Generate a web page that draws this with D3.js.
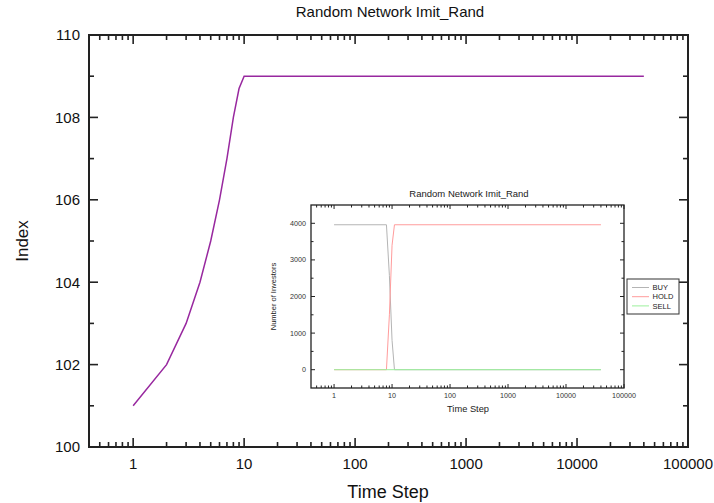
<!DOCTYPE html>
<html>
<head>
<meta charset="utf-8">
<script src="https://cdn.jsdelivr.net/npm/d3@7/dist/d3.min.js"></script>
<style>
  html, body { margin: 0; padding: 0; background: #fff; }
  svg { display: block; font-family: "Liberation Sans", Arial, sans-serif; }
</style>
</head>
<body>
<svg id="chart" width="714" height="503"></svg>
<script>
// Index over time (main panel)
const indexSteps  = [1, 2, 3, 4, 5, 6, 7, 8, 9, 10, 40000];
const indexValues = [101, 102, 103, 104, 105, 106, 107, 108, 108.7, 109, 109];

// Investor counts per state (inset panel)
const buySteps   = [1, 8, 9, 10, 11, 40000];
const buyValues  = [3960, 3960, 2570, 800, 0, 0];
const holdSteps  = [1, 8, 9, 10, 11, 40000];
const holdValues = [0, 0, 1500, 3400, 3960, 3960];
const sellSteps  = [1, 40000];
const sellValues = [0, 0];

const xTickValues     = [1, 10, 100, 1000, 10000, 100000];
const indexTickValues = [100, 102, 104, 106, 108, 110];
const countTickValues = [0, 1000, 2000, 3000, 4000];
const legendLabels    = ["BUY", "HOLD", "SELL"];
const legendColors    = ["#b4b4b4", "#ff9c9c", "#9cf09c"];

const titleText = "Random Network Imit_Rand";

const svg = d3.select("#chart");

// minor log ticks: 2..9 of each decade, plus 0.5..0.9 below 1
function minorLogTicks(lo, hi) {
  const out = [];
  for (let e = -1; e <= 4; e++) {
    for (let m = 2; m <= 9; m++) {
      const v = m * Math.pow(10, e);
      if (v > lo && v < hi) out.push(v);
    }
  }
  return out;
}

function drawPanel(g, cfg) {
  const { x, y, w, h } = cfg;
  const xs = cfg.xScale, ys = cfg.yScale;
  g.append("rect").attr("x", x).attr("y", y).attr("width", w).attr("height", h)
    .attr("fill", "#fff");

  const majX = xTickValues;
  const minX = minorLogTicks(xs.domain()[0], xs.domain()[1]);

  // bottom / top x ticks (inward)
  const tk = g.append("g").attr("stroke", "#222").attr("stroke-width", cfg.tickWidth);
  majX.forEach(v => {
    const px = xs(v);
    tk.append("line").attr("x1", px).attr("x2", px).attr("y1", y + h).attr("y2", y + h - cfg.majLen);
    tk.append("line").attr("x1", px).attr("x2", px).attr("y1", y).attr("y2", y + cfg.majLen);
  });
  minX.forEach(v => {
    const px = xs(v);
    tk.append("line").attr("x1", px).attr("x2", px).attr("y1", y + h).attr("y2", y + h - cfg.minLen);
    tk.append("line").attr("x1", px).attr("x2", px).attr("y1", y).attr("y2", y + cfg.minLen);
  });
  // left / right y ticks (inward)
  cfg.yMajor.forEach(v => {
    const py = ys(v);
    tk.append("line").attr("x1", x).attr("x2", x + cfg.majLen).attr("y1", py).attr("y2", py);
    tk.append("line").attr("x1", x + w).attr("x2", x + w - cfg.majLen).attr("y1", py).attr("y2", py);
  });
  cfg.yMinor.forEach(v => {
    const py = ys(v);
    tk.append("line").attr("x1", x).attr("x2", x + cfg.minLen).attr("y1", py).attr("y2", py);
    tk.append("line").attr("x1", x + w).attr("x2", x + w - cfg.minLen).attr("y1", py).attr("y2", py);
  });

  // tick labels
  const lab = g.append("g").attr("fill", cfg.textColor).attr("font-size", cfg.tickFont);
  majX.forEach(v => {
    lab.append("text").attr("x", xs(v)).attr("y", y + h + cfg.xLabelOffset)
      .attr("text-anchor", "middle").text(d3.format("d")(v));
  });
  cfg.yMajor.forEach(v => {
    lab.append("text").attr("x", x - cfg.yLabelOffset).attr("y", ys(v))
      .attr("dy", "0.36em").attr("text-anchor", "end").text(d3.format("d")(v));
  });

  // frame
  g.append("rect").attr("x", x).attr("y", y).attr("width", w).attr("height", h)
    .attr("fill", "none").attr("stroke", "#222").attr("stroke-width", cfg.frameWidth);
}

// ---------- main panel ----------
const M = { x: 89, y: 35, w: 599, h: 412 };
const xMain = d3.scaleLog().domain([0.4, 100000]).range([M.x, M.x + M.w]);
const yMain = d3.scaleLinear().domain([100, 110]).range([M.y + M.h, M.y]);

const gMain = svg.append("g");
drawPanel(gMain, {
  ...M, xScale: xMain, yScale: yMain,
  yMajor: indexTickValues, yMinor: [101, 103, 105, 107, 109],
  majLen: 9, minLen: 5, tickWidth: 1.6, frameWidth: 2,
  tickFont: 15, xLabelOffset: 22, yLabelOffset: 9, textColor: "#111"
});

gMain.append("path")
  .datum(indexSteps.map((s, i) => [s, indexValues[i]]))
  .attr("fill", "none").attr("stroke", "#98289f").attr("stroke-width", 1.5)
  .attr("d", d3.line().x(d => xMain(d[0])).y(d => yMain(d[1])));

svg.append("text").attr("x", 390).attr("y", 17).attr("text-anchor", "middle")
  .attr("font-size", 15).attr("fill", "#111").text(titleText);
svg.append("text").attr("x", 388).attr("y", 498).attr("text-anchor", "middle")
  .attr("font-size", 18).attr("fill", "#111").text("Time Step");
svg.append("text").attr("transform", "translate(28,241) rotate(-90)")
  .attr("text-anchor", "middle").attr("font-size", 17).attr("fill", "#111").text("Index");

// ---------- inset panel ----------
const I = { x: 311, y: 205, w: 313, h: 183 };
const xIn = d3.scaleLog().domain([0.4, 100000]).range([I.x, I.x + I.w]);
const yIn = d3.scaleLinear().domain([-500, 4500]).range([I.y + I.h, I.y]);

const gIn = svg.append("g");
drawPanel(gIn, {
  ...I, xScale: xIn, yScale: yIn,
  yMajor: countTickValues, yMinor: [500, 1500, 2500, 3500],
  majLen: 4, minLen: 2.5, tickWidth: 1, frameWidth: 1.3,
  tickFont: 7.2, xLabelOffset: 10, yLabelOffset: 5, textColor: "#333"
});

const lineIn = d3.line().x(d => xIn(d[0])).y(d => yIn(d[1]));
const series = [
  [buySteps, buyValues, legendColors[0]],
  [holdSteps, holdValues, legendColors[1]],
  [sellSteps, sellValues, legendColors[2]]
];
series.forEach(([s, v, c]) => {
  gIn.append("path").datum(s.map((t, i) => [t, v[i]]))
    .attr("fill", "none").attr("stroke", c).attr("stroke-width", 1).attr("d", lineIn);
});

svg.append("text").attr("x", 469).attr("y", 196.5).attr("text-anchor", "middle")
  .attr("font-size", 9.5).attr("fill", "#222").text(titleText);
svg.append("text").attr("x", 468).attr("y", 412).attr("text-anchor", "middle")
  .attr("font-size", 9.3).attr("fill", "#222").text("Time Step");
svg.append("text").attr("transform", "translate(276,296.5) rotate(-90)")
  .attr("text-anchor", "middle").attr("font-size", 7.5).attr("fill", "#222").text("Number of Investors");

// legend
const L = svg.append("g");
L.append("rect").attr("x", 627).attr("y", 279).attr("width", 52).attr("height", 35)
  .attr("fill", "#fff").attr("stroke", "#333").attr("stroke-width", 1);
legendLabels.forEach((name, i) => {
  const ly = 287.5 + i * 9.2;
  L.append("line").attr("x1", 632).attr("x2", 649).attr("y1", ly).attr("y2", ly)
    .attr("stroke", legendColors[i]).attr("stroke-width", 1);
  L.append("text").attr("x", 652.5).attr("y", ly).attr("dy", "0.36em")
    .attr("font-size", 7.5).attr("fill", "#222").text(name);
});
</script>
</body>
</html>
